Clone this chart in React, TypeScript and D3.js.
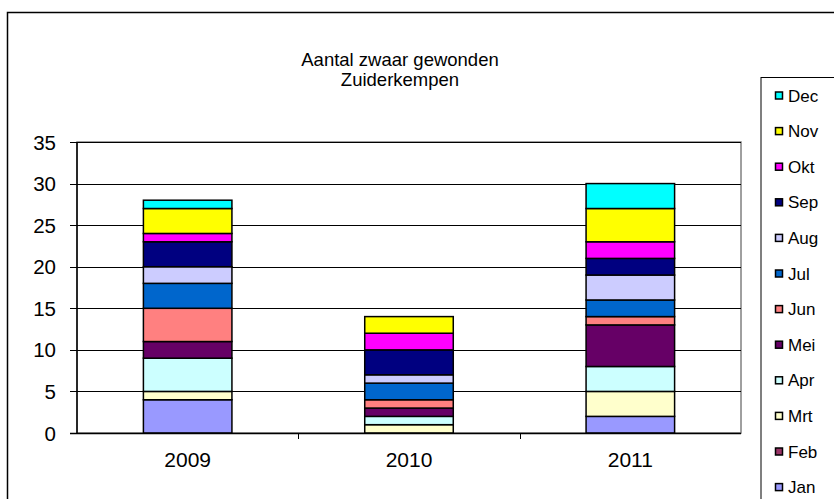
import React from "react";
import * as d3 from "d3";

const years = ["2009", "2010", "2011"];
const months = ["Jan", "Feb", "Mrt", "Apr", "Mei", "Jun", "Jul", "Aug", "Sep", "Okt", "Nov", "Dec"];
const colors = ["#9999FF", "#993366", "#FFFFCC", "#CCFFFF", "#660066", "#FF8080", "#0066CC", "#CCCCFF", "#000080", "#FF00FF", "#FFFF00", "#00FFFF"];
const values2009 = [4, 0, 1, 4, 2, 4, 3, 2, 3, 1, 3, 1];
const values2010 = [0, 0, 1, 1, 1, 1, 2, 1, 3, 2, 2, 0];
const values2011 = [2, 0, 3, 3, 5, 1, 2, 3, 2, 2, 4, 3];
const yTicks = [0, 5, 10, 15, 20, 25, 30, 35];
const titleLines = ["Aantal zwaar gewonden", "Zuiderkempen"];

const W = 834, H = 499;
const left = 77, right = 741, top = 142, bottom = 433;

export default function App() {
  const seriesByYear = [values2009, values2010, values2011];
  const rows = years.map((y, i) => {
    const r: any = { year: y };
    months.forEach((m, j) => (r[m] = seriesByYear[i][j]));
    return r;
  });
  const stack = d3.stack().keys(months)(rows as any);
  const x = d3.scaleBand().domain(years).range([left, right]).paddingInner(0).paddingOuter(0);
  const y = d3.scaleLinear().domain([0, 35]).range([bottom, top]);
  const barW = x.bandwidth() * 0.4;
  const font = "Arial, 'Liberation Sans', sans-serif";

  return (
    <svg width={W} height={H} style={{ position: "absolute", left: 0, top: 0, background: "#fff" }} fontFamily={font}>
      <rect x={7.5} y={12.5} width={W} height={H} fill="#fff" stroke="#000" strokeWidth={1.5} />
      {/* title */}
      {titleLines.map((t, i) => (
        <text key={t} x={400} y={66 + i * 20} textAnchor="middle" fontSize={18.5} fill="#000">{t}</text>
      ))}
      {/* plot border */}
      <rect x={left} y={top} width={right - left} height={bottom - top} fill="none" stroke="#808080" strokeWidth={1.5} />
      {/* gridlines */}
      {yTicks.map((t) => (
        <g key={t}>
          {t > 0 && <line x1={left} x2={right} y1={Math.round(y(t)) + 0.5} y2={Math.round(y(t)) + 0.5} stroke="#000" strokeWidth={1} />}
          <line x1={left - 7} x2={left} y1={Math.round(y(t)) + 0.5} y2={Math.round(y(t)) + 0.5} stroke="#000" strokeWidth={1} />
          <text x={56} y={y(t) + 7.5} textAnchor="end" fontSize={20.5} fill="#000">{t}</text>
        </g>
      ))}
      {/* bars */}
      {stack.map((s, si) =>
        s.map((d, di) => {
          const h = y(d[0]) - y(d[1]);
          if (h <= 0) return null;
          const cx = (x(years[di]) as number) + x.bandwidth() / 2;
          return (
            <rect key={si + "-" + di} x={cx - barW / 2} y={y(d[1])} width={barW} height={h}
              fill={colors[si]} stroke="#000" strokeWidth={1.5} />
          );
        })
      )}
      {/* axes */}
      <line x1={left} x2={left} y1={top} y2={bottom + 1} stroke="#000" strokeWidth={1.5} />
      <line x1={left - 7} x2={right} y1={bottom + 0.5} y2={bottom + 0.5} stroke="#000" strokeWidth={1.5} />
      {years.slice(1).map((yr) => (
        <line key={yr} x1={Math.round(x(yr) as number) + 0.5} x2={Math.round(x(yr) as number) + 0.5} y1={bottom} y2={bottom + 6} stroke="#000" strokeWidth={1} />
      ))}
      {years.map((yr) => (
        <text key={yr} x={(x(yr) as number) + x.bandwidth() / 2} y={467} textAnchor="middle" fontSize={21} fill="#000">{yr}</text>
      ))}
      {/* legend */}
      <rect x={761} y={77.5} width={100} height={500} fill="#fff" stroke="#000" strokeWidth={1} />
      {months.map((m, i) => {
        const idx = months.length - 1 - i;
        const cy = 95.5 + i * 35.6;
        return (
          <g key={m}>
            <rect x={775.5} y={cy - 3.5} width={7} height={7} fill={colors[idx]} stroke="#000" strokeWidth={1.5} />
            <text x={788} y={cy + 6} fontSize={17} fill="#000">{months[idx]}</text>
          </g>
        );
      })}
    </svg>
  );
}
